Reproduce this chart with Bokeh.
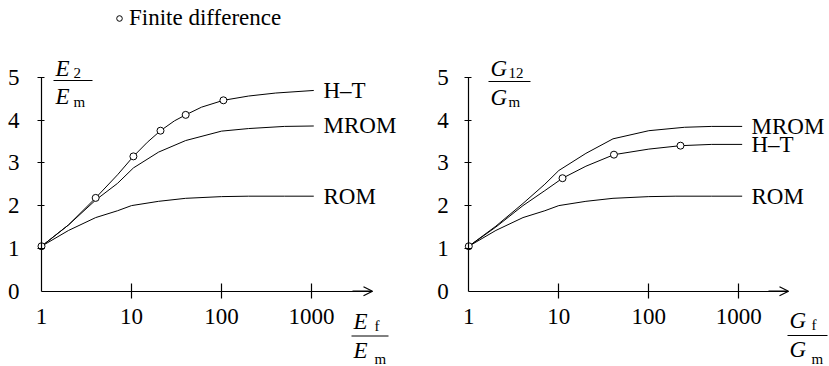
from bokeh.plotting import figure
from bokeh.models import (FixedTicker, Arrow, OpenHead, Legend, LegendItem,
                          Range1d, NumeralTickFormatter, LogAxis, LinearAxis)
from bokeh.layouts import row
from bokeh.embed import file_html
from bokeh.resources import INLINE
from bokeh.core.properties import value

# ---------------- data ----------------
x_ticks = [1, 10, 100, 1000]
y_ticks = [0, 1, 2, 3, 4, 5]

# Left panel: E2/Em versus Ef/Em
e_ht_x = [1, 2, 4, 7, 10.5, 15, 21, 30, 40, 60, 105, 200, 400, 1060]
e_ht_y = [1.05, 1.55, 2.18, 2.72, 3.15, 3.48, 3.75, 3.98, 4.12, 4.30, 4.46, 4.56, 4.63, 4.69]
e_mrom_x = [1, 2, 4, 7, 10.5, 20, 40, 100, 200, 500, 1060]
e_mrom_y = [1.05, 1.55, 2.13, 2.52, 2.88, 3.25, 3.52, 3.74, 3.80, 3.85, 3.86]
e_rom_x = [1, 2, 4, 7, 10, 20, 40, 100, 200, 500, 1060]
e_rom_y = [1.05, 1.42, 1.72, 1.88, 2.00, 2.10, 2.17, 2.21, 2.22, 2.22, 2.22]
e_fd_x = [1, 4, 10.5, 21, 40, 105]
e_fd_y = [1.05, 2.18, 3.15, 3.75, 4.12, 4.46]
e_names = ["H\u2013T", "MROM", "ROM"]

# Right panel: G12/Gm versus Gf/Gm
g_ht_x = [1, 2, 4, 7, 11, 20, 41, 100, 225, 500, 1090]
g_ht_y = [1.05, 1.50, 2.00, 2.35, 2.64, 2.92, 3.19, 3.32, 3.40, 3.43, 3.43]
g_mrom_x = [1, 2, 4, 7, 10, 20, 40, 100, 250, 500, 1090]
g_mrom_y = [1.05, 1.52, 2.05, 2.50, 2.82, 3.22, 3.56, 3.75, 3.83, 3.85, 3.85]
g_rom_x = [1, 2, 4, 7, 10, 20, 40, 100, 200, 500, 1090]
g_rom_y = [1.05, 1.42, 1.72, 1.88, 2.00, 2.10, 2.17, 2.21, 2.22, 2.22, 2.22]
g_fd_x = [1, 11, 41, 225]
g_fd_y = [1.05, 2.64, 3.19, 3.40]
g_names = ["MROM", "H\u2013T", "ROM"]

legend_label = "Finite difference"

# ---------------- layout constants (pixels) ----------------
FONT = "Liberation Serif"
FS = "23px"
SUB = "15px"
H = 365
DEC = 90.0            # px per decade
YPX = 42.8            # px per unit of y
Y0 = 290.7            # pixel row of y = 0


def yy(py):
    return (Y0 - py) / YPX


def style_axis(ax, ticks, tick_in, tick_out, standoff, show_line):
    ax.ticker = FixedTicker(ticks=ticks)
    ax.major_tick_in = tick_in
    ax.major_tick_out = tick_out
    ax.minor_tick_line_color = None
    ax.axis_line_width = 1.2
    ax.major_tick_line_width = 1.2
    ax.major_label_standoff = standoff
    ax.major_label_text_font = FONT
    ax.major_label_text_font_size = FS
    ax.major_label_text_color = "black"
    ax.axis_line_color = "black" if show_line else None
    ax.major_tick_line_color = "black" if show_line else None


def make_panel(width, page_left, origin_px, arrow_px, y_standoff):
    def fx(px):
        return 10 ** ((px - origin_px) / DEC)
    p = figure(width=width, height=H, x_axis_type="log",
               x_range=Range1d(fx(page_left), fx(page_left + width)),
               y_range=Range1d(yy(H), yy(0)),
               output_backend="svg", toolbar_location=None,
               min_border_left=0, min_border_right=0,
               min_border_top=0, min_border_bottom=0)
    p.outline_line_color = None
    p.grid.visible = False
    p.background_fill_color = "white"
    p.border_fill_color = "white"

    # x axis: ticks at 10, 100, 1000 crossing the axis line; label "1" at the origin
    xa = p.xaxis[0]
    xa.fixed_location = 0
    xa.formatter = NumeralTickFormatter(format="0")
    xa.bounds = (1, fx(arrow_px))
    style_axis(xa, x_ticks[1:], 8, 7, 11, True)
    xo = LogAxis(fixed_location=0, formatter=NumeralTickFormatter(format="0"))
    style_axis(xo, x_ticks[:1], 8, 7, 11, False)
    p.add_layout(xo, "below")

    # y axis: ticks 1..5, label "0" at the origin
    ya = p.yaxis[0]
    ya.fixed_location = 1
    ya.bounds = (0, 5)
    style_axis(ya, y_ticks[1:], 3, 4, y_standoff, True)
    yo = LinearAxis(fixed_location=1)
    style_axis(yo, y_ticks[:1], 3, 4, y_standoff, False)
    p.add_layout(yo, "left")

    p.add_layout(Arrow(end=OpenHead(size=9, line_width=1.2, line_color="black"),
                       x_start=fx(arrow_px - 20), y_start=0, x_end=fx(arrow_px), y_end=0,
                       line_color="black", line_width=1.2))
    return p, fx


def add_curves(p, series, fd_x, fd_y, names, label_x):
    for (xs, ys) in series:
        p.line(xs, ys, line_color="black", line_width=1)
    fd = p.scatter(fd_x, fd_y, marker="circle", size=7, fill_color="white",
                   line_color="black", line_width=1)
    ends = [ys[-1] for (_, ys) in series]
    p.text(x=[label_x] * len(names), y=ends, text=names,
           text_font=value(FONT), text_font_size=FS, text_baseline="middle",
           text_align="left", text_color="black")
    return fd


def fraction(p, fx, num, num_sub, den, den_sub, pos):
    # pos: pixel positions (letter x, subscript x, bar x0, bar x1, bar y,
    #      numerator y, num-sub y, denominator y, den-sub y)
    x0, xs, b0, b1, by, ny, nsy, dy, dsy = pos
    p.text(x=[fx(x0), fx(x0)], y=[yy(ny), yy(dy)], text=[num, den],
           text_font=value(FONT), text_font_size=FS, text_font_style="italic",
           text_baseline="middle", text_align="left", text_color="black")
    p.text(x=[fx(xs), fx(xs)], y=[yy(nsy), yy(dsy)], text=[num_sub, den_sub],
           text_font=value(FONT), text_font_size=SUB,
           text_baseline="middle", text_align="left", text_color="black")
    p.segment(x0=[fx(b0)], y0=[yy(by)], x1=[fx(b1)], y1=[yy(by)],
              line_color="black", line_width=1)


# ---------------- left panel ----------------
p1, lx = make_panel(414, 0, 41, 372, 18)
fd1 = add_curves(p1, [(e_ht_x, e_ht_y), (e_mrom_x, e_mrom_y), (e_rom_x, e_rom_y)],
                 e_fd_x, e_fd_y, e_names, lx(323))
fraction(p1, lx, "E", "2", "E", "m", (55, 73, 53, 92, 80, 68, 72, 96, 101))
fraction(p1, lx, "E", "f", "E", "m", (353, 374, 351, 388, 335.5, 321, 325, 350, 358))

legend = Legend(items=[LegendItem(label=legend_label, renderers=[fd1])],
                location=(112, H - 31), orientation="horizontal",
                border_line_color=None, background_fill_alpha=0,
                padding=0, margin=0, spacing=0, glyph_width=14, glyph_height=14,
                label_standoff=3, label_text_font=FONT, label_text_font_size=FS,
                label_text_color="black")
p1.add_layout(legend)

# ---------------- right panel ----------------
p2, rx = make_panel(414, 414, 468.3, 788, 16)
add_curves(p2, [(g_mrom_x, g_mrom_y), (g_ht_x, g_ht_y), (g_rom_x, g_rom_y)],
           g_fd_x, g_fd_y, g_names, rx(751))
fraction(p2, rx, "G", "12", "G", "m", (490, 508, 488, 530, 81, 68, 72, 97, 101))
fraction(p2, rx, "G", "f", "G", "m", (789, 811, 787, 827, 335, 320, 324, 349, 358))

layout = row(p1, p2)
open("out.html", "w").write(file_html(layout, INLINE))
